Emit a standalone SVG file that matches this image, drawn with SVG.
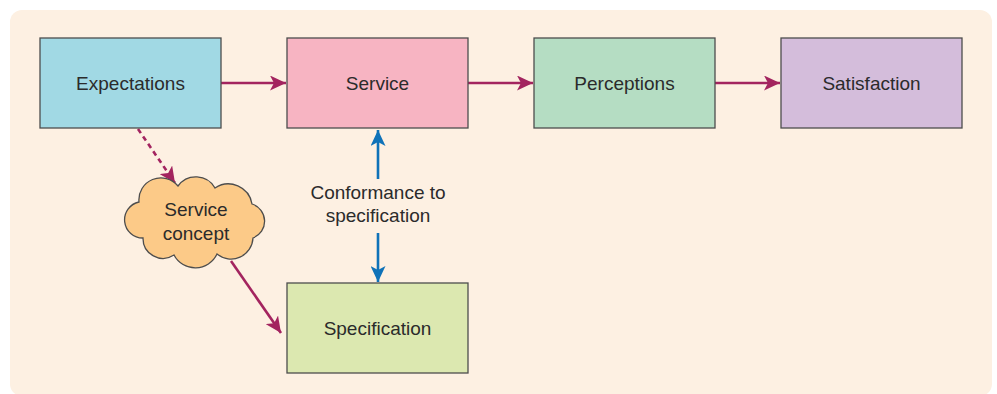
<svg xmlns="http://www.w3.org/2000/svg" width="997" height="394" viewBox="0 0 997 394">
<style>
.box{stroke:#4d4d4d;stroke-width:1.3}
.lbl{font-family:"Liberation Sans",Arial,sans-serif;font-size:19px;fill:#2b2b2b;text-anchor:middle}
.red{stroke:#a3245f;stroke-width:2.6;fill:none}
.blue{stroke:#0f72b8;stroke-width:2.6;fill:none}
</style>
<defs>
<marker id="ar" markerUnits="userSpaceOnUse" markerWidth="17" markerHeight="15" refX="16" refY="7.5" orient="auto"><path d="M0,0 L16,7.5 L0,15 L4,7.5 Z" fill="#a3245f"/></marker>
<marker id="ab" markerUnits="userSpaceOnUse" markerWidth="17" markerHeight="15" refX="16" refY="7.5" orient="auto"><path d="M0,0 L16,7.5 L0,15 L4,7.5 Z" fill="#0f72b8"/></marker>
</defs>
<rect x="10" y="10" width="982" height="386" rx="12" fill="#fdf0e2"/>
<g id="connectors">
<line class="red" x1="221" y1="83" x2="286" y2="83" marker-end="url(#ar)"/>
<line class="red" x1="468" y1="83" x2="533" y2="83" marker-end="url(#ar)"/>
<line class="red" x1="715" y1="83" x2="780" y2="83" marker-end="url(#ar)"/>
<line class="red" x1="138" y1="129" x2="175" y2="183" stroke-dasharray="5,4" marker-end="url(#ar)"/>
<line class="red" x1="231" y1="261" x2="281" y2="333" marker-end="url(#ar)"/>
<line class="blue" x1="378" y1="179" x2="378" y2="130" marker-end="url(#ab)"/>
<line class="blue" x1="378" y1="233" x2="378" y2="282" marker-end="url(#ab)"/>
</g>
<g id="expectations"><rect class="box" x="40" y="38" width="181" height="90" fill="#a1d9e4"/><text class="lbl" x="130.5" y="90">Expectations</text></g>
<g id="service"><rect class="box" x="287" y="38" width="181" height="90" fill="#f7b4c2"/><text class="lbl" x="377.5" y="90">Service</text></g>
<g id="perceptions"><rect class="box" x="534" y="38" width="181" height="90" fill="#b5ddc3"/><text class="lbl" x="624.5" y="90">Perceptions</text></g>
<g id="satisfaction"><rect class="box" x="781" y="38" width="181" height="90" fill="#d4bddb"/><text class="lbl" x="871.5" y="90">Satisfaction</text></g>
<g id="specification"><rect class="box" x="287" y="283" width="181" height="90" fill="#dce8b0"/><text class="lbl" x="377.5" y="335">Specification</text></g>
<g id="service-concept"><path class="box" fill="#fcca88" d="M139,202 A22,22 0 0 1 178,186 A22,22 0 0 1 215,188 A24,24 0 0 1 252,204 A18,18 0 0 1 253,238 A22,22 0 0 1 217,254 A24,24 0 0 1 174,255 A20,20 0 0 1 143,238 A18.2,18.2 0 0 1 139,202 Z"/><text class="lbl" x="196" y="216">Service</text><text class="lbl" x="196" y="240">concept</text></g>
<g id="conformance-label"><text class="lbl" x="378" y="199">Conformance to</text><text class="lbl" x="378" y="222">specification</text></g>
</svg>
